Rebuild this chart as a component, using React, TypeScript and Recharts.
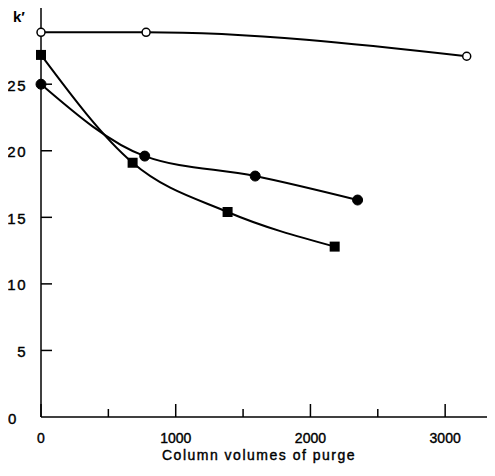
import { Label, Line, LineChart, XAxis, YAxis } from "recharts";

// k' vs column volumes of purge, three series
const openX = [0, 780, 3160];
const openK = [28.9, 28.9, 27.1];

const filledX = [0, 770, 1590, 2350];
const filledK = [25.0, 19.6, 18.1, 16.3];

const squareX = [0, 680, 1385, 2180];
const squareK = [27.2, 19.1, 15.4, 12.8];

const xTicks = [0, 500, 1000, 1500, 2000, 2500, 3000];
const yTicks = [0, 5, 10, 15, 20, 25];

const toRows = (xs: number[], ys: number[]) => xs.map((x, i) => ({ x, k: ys[i] }));

const openData = toRows(openX, openK);
const filledData = toRows(filledX, filledK);
const squareData = toRows(squareX, squareK);

const FONT = "'Liberation Sans', Arial, sans-serif";
const textStyle = { fontFamily: FONT, fill: "#000", stroke: "#000", strokeWidth: 0.4 };

function XTick(props: any) {
  const { x, y, payload } = props;
  const major = payload.value % 1000 === 0;
  return (
    <g>
      <line x1={x} x2={x} y1={y} y2={y - (major ? 13 : 8)} stroke="#000" strokeWidth={1.5} />
      {major && (
        <text x={x} y={y + 21} textAnchor="middle" dominantBaseline="central" fontSize={14} {...textStyle}>
          {payload.value}
        </text>
      )}
    </g>
  );
}

function YTick(props: any) {
  const { x, y, payload } = props;
  const zero = payload.value === 0;
  return (
    <g>
      {!zero && <line x1={x} x2={x + 11} y1={y} y2={y} stroke="#000" strokeWidth={1.5} />}
      <text
        x={zero ? x - 33 : x - 14}
        y={y + 1}
        textAnchor={zero ? "start" : "end"}
        dominantBaseline="central"
        fontSize={15}
        letterSpacing={1.5}
        {...textStyle}
      >
        {payload.value}
      </text>
    </g>
  );
}

function SquareDot(props: any) {
  const { cx, cy } = props;
  if (cx == null || cy == null) return null;
  return <rect x={cx - 5} y={cy - 5} width={10} height={10} fill="#000" />;
}

function XTitle(props: any) {
  const { viewBox } = props;
  return (
    <text
      x={viewBox.x + viewBox.width / 2 - 9}
      y={viewBox.y + 43}
      textAnchor="middle"
      fontSize={14}
      letterSpacing={1.5}
      {...textStyle}
    >
      Column volumes of purge
    </text>
  );
}

export default function App() {
  return (
    <div style={{ position: "relative", width: 495, height: 476, margin: -8, background: "#fff" }}>
      <div
        style={{
          position: "absolute",
          left: 13,
          top: 8,
          fontFamily: FONT,
          fontSize: 15,
          fontWeight: 700,
          color: "#000",
        }}
      >
        k′
      </div>
      <LineChart width={495} height={476} margin={{ top: 7, right: 0, bottom: 0, left: 0 }}>
        <XAxis
          type="number"
          dataKey="x"
          domain={[0, 3370]}
          ticks={xTicks}
          tick={<XTick />}
          tickSize={0}
          tickMargin={0}
          tickLine={false}
          axisLine={{ stroke: "#000", strokeWidth: 1.5 }}
          height={59}
          allowDuplicatedCategory={false}
        >
          <Label content={<XTitle />} />
        </XAxis>
        <YAxis
          type="number"
          domain={[0, 30.8]}
          ticks={yTicks}
          tick={<YTick />}
          tickSize={0}
          tickMargin={0}
          tickLine={false}
          axisLine={{ stroke: "#000", strokeWidth: 1.5 }}
          width={41}
        />
        <Line
          data={openData}
          dataKey="k"
          type="monotone"
          stroke="#000"
          strokeWidth={2}
          dot={{ r: 4, fill: "#fff", stroke: "#000", strokeWidth: 1.5 }}
          isAnimationActive={false}
        />
        <Line
          data={filledData}
          dataKey="k"
          type="monotone"
          stroke="#000"
          strokeWidth={2}
          dot={{ r: 5, fill: "#000", stroke: "#000", strokeWidth: 1 }}
          isAnimationActive={false}
        />
        <Line
          data={squareData}
          dataKey="k"
          type="monotone"
          stroke="#000"
          strokeWidth={2}
          dot={<SquareDot />}
          isAnimationActive={false}
        />
      </LineChart>
    </div>
  );
}
